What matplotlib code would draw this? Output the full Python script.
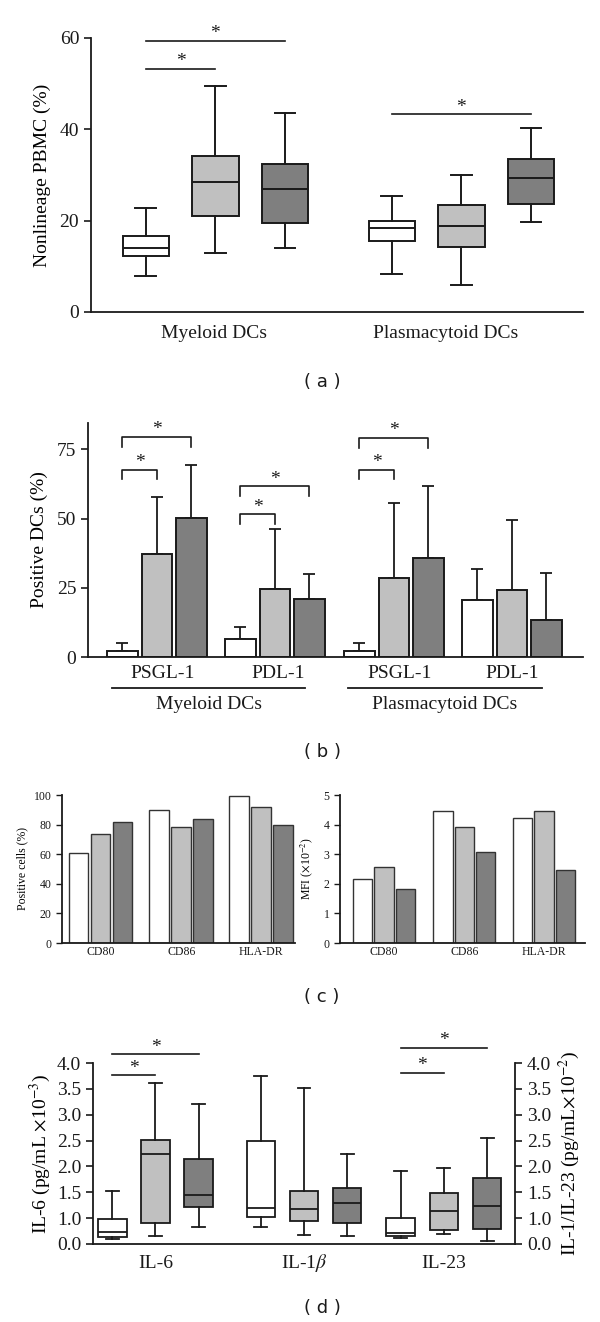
import numpy as np
import matplotlib
matplotlib.use("Agg")
import matplotlib.pyplot as plt

plt.rcParams['font.family'] = ['Liberation Serif', 'DejaVu Serif']
plt.rcParams['mathtext.fontset'] = 'stix'

# ---------------- data ----------------
# (a) nonlineage PBMC boxplots
a_groups = ['Myeloid DCs', 'Plasmacytoid DCs']
a_whislo = [7.9, 13.0, 14.1, 8.4, 6.0, 19.8]
a_q1 = [12.2, 21.0, 19.4, 15.6, 14.3, 23.7]
a_med = [14.0, 28.5, 26.9, 18.4, 18.8, 29.4]
a_q3 = [16.75, 34.2, 32.3, 20.0, 23.5, 33.6]
a_whishi = [22.7, 49.5, 43.5, 25.5, 30.1, 40.2]
a_sig = [(0, 1, 53.2), (0, 2, 59.4), (3, 5, 43.3)]

# (b) positive DCs, mean + SD
b_markers = ['PSGL-1', 'PDL-1', 'PSGL-1', 'PDL-1']
b_cells = ['Myeloid DCs', 'Plasmacytoid DCs']
b_mean = [2.3, 37.1, 50.3, 6.5, 24.6, 21.0, 2.3, 28.6, 35.8, 20.6, 24.2, 13.3]
b_top = [4.9, 57.7, 69.5, 11.0, 46.3, 30.1, 4.9, 55.7, 61.6, 31.7, 49.6, 30.2]
b_sig = [(0, 1, 67.6), (0, 2, 79.5), (3, 4, 51.5), (3, 5, 61.7), (6, 7, 67.6), (6, 8, 79.1)]

# (c) costimulatory molecules
c_labels = ['CD80', 'CD86', 'HLA-DR']
c_pos = [60.5, 73.6, 81.5, 89.6, 78.6, 83.7, 99.1, 92.1, 79.7]
c_mfi = [2.17, 2.58, 1.82, 4.47, 3.93, 3.06, 4.22, 4.46, 2.48]

# (d) cytokines
d_labels = ['IL-6', r'IL-1$\beta$', 'IL-23']
d_whislo = [0.19, 0.30, 0.64, 0.65, 0.34, 0.31, 0.25, 0.40, 0.10]
d_q1 = [0.26, 0.83, 1.21, 1.03, 0.88, 0.82, 0.31, 0.56, 0.58]
d_med = [0.47, 2.24, 1.44, 1.19, 1.17, 1.30, 0.44, 1.13, 1.24]
d_q3 = [0.96, 2.51, 2.14, 2.49, 1.53, 1.59, 1.00, 1.48, 1.77]
d_whishi = [1.53, 3.62, 3.20, 3.74, 3.52, 2.25, 1.92, 1.97, 2.55]
d_sig = [(0, 1, 3.76), (0, 2, 4.17), (6, 7, 3.81), (6, 8, 4.29)]

fills = ['white', '#c0c0c0', '#7f7f7f']
ink = '#1a1a1a'


def place(x0, y0, x1, y1):
    # pixel box (top-left origin) -> figure fraction
    return [x0 / 600, 1 - y1 / 1322, (x1 - x0) / 600, (y1 - y0) / 1322]


def positions(starts, step):
    return [s + j * step for s in starts for j in range(3)]


def stats(lo, q1, med, q3, hi):
    return [dict(whislo=a, q1=b, med=c, q3=d, whishi=e, fliers=[])
            for a, b, c, d, e in zip(lo, q1, med, q3, hi)]


def boxes(ax, st, pos, width, lw=1.4):
    bp = ax.bxp(st, positions=pos, widths=width, patch_artist=True,
                showfliers=False, capwidths=width * 0.45,
                boxprops=dict(edgecolor=ink, linewidth=lw),
                medianprops=dict(color=ink, linewidth=lw),
                whiskerprops=dict(color=ink, linewidth=lw),
                capprops=dict(color=ink, linewidth=lw))
    for i, b in enumerate(bp['boxes']):
        b.set_facecolor(fills[i % 3])


def sigline(ax, x1, x2, y, fs, leg=0.0):
    if leg:
        ax.plot([x1, x1, x2, x2], [y - leg, y, y, y - leg], color=ink, lw=1.2, clip_on=False)
    else:
        ax.plot([x1, x2], [y, y], color=ink, lw=1.2, clip_on=False)
    ax.annotate('*', xy=((x1 + x2) / 2, y), xytext=(0, -1), textcoords='offset points',
                ha='center', va='bottom', fontsize=fs, color=ink, annotation_clip=False)


def style(ax, fs):
    for s in ['top', 'right']:
        ax.spines[s].set_visible(False)
    for s in ['left', 'bottom']:
        ax.spines[s].set_linewidth(1.3)
        ax.spines[s].set_color(ink)
    ax.tick_params(axis='y', direction='out', length=5, width=1.2, labelsize=fs, colors=ink)
    ax.tick_params(axis='x', length=0, labelsize=fs, colors=ink)


def caption(txt, y):
    fig.text(322 / 600, 1 - y / 1322, txt, ha='center', va='center', fontsize=13,
             family='DejaVu Sans', color=ink)


fig = plt.figure(figsize=(6, 13.22), dpi=100)

# ---------------- (a) ----------------
ax = fig.add_axes(place(91, 38, 583, 312))
pa = positions([0.78, 4.28], 0.99)
boxes(ax, stats(a_whislo, a_q1, a_med, a_q3, a_whishi), pa, 0.66)
ax.set_xlim(0, 7)
ax.set_ylim(0, 60)
ax.set_yticks([0, 20, 40, 60])
style(ax, 14)
ax.set_xticks([pa[1] - 0.02, pa[4] - 0.23])
ax.set_xticklabels(a_groups)
ax.tick_params(axis='x', pad=9)
ax.set_ylabel('Nonlineage PBMC (%)', fontsize=14, labelpad=6)
for i, j, h in a_sig:
    sigline(ax, pa[i], pa[j], h, 14)
caption('( a )', 382)

# ---------------- (b) ----------------
ax = fig.add_axes(place(88, 423, 583, 657))
pb = positions([1.0, 4.42, 7.87, 11.29], 1.0)
err = np.array(b_top) - np.array(b_mean)
ax.bar(pb, b_mean, width=0.88, color=fills * 4, edgecolor=ink, linewidth=1.4, zorder=2)
ax.errorbar(pb, b_mean, yerr=[np.zeros(len(err)), err], fmt='none', ecolor=ink,
            elinewidth=1.3, capsize=4.5, capthick=1.3, zorder=1)
ax.set_xlim(0, 14.35)
ax.set_ylim(0, 84.5)
ax.set_yticks([0, 25, 50, 75])
style(ax, 14)
ax.set_xticks([pb[1] + 0.15, pb[4] + 0.1, pb[7] + 0.15, pb[10]])
ax.set_xticklabels(b_markers)
ax.tick_params(axis='x', pad=6)
ax.set_ylabel('Positive DCs (%)', fontsize=14, labelpad=6)
tr = ax.get_xaxis_transform()
for k, (x0, x1) in enumerate([(0.70, 6.29), (7.54, 13.16)]):
    ax.plot([x0, x1], [-0.133, -0.133], transform=tr, color=ink, lw=1.3, clip_on=False)
    ax.text((x0 + x1) / 2, -0.205, b_cells[k], transform=tr, ha='center', va='center',
            fontsize=14, color=ink)
for i, j, h in b_sig:
    sigline(ax, pb[i], pb[j], h, 14, leg=3.5)
caption('( b )', 752)

# ---------------- (c) ----------------
ax = fig.add_axes(place(62, 795, 295, 943))
pc = positions([0.75, 4.43, 8.05], 1.0)
ax.bar(pc, c_pos, width=0.9, color=fills * 3, edgecolor='#333333', linewidth=1.0)
ax.set_xlim(0, 10.6)
ax.set_ylim(0, 100)
ax.set_yticks(range(0, 101, 20))
style(ax, 8.5)
ax.tick_params(axis='y', length=4, width=1.0)
ax.set_xticks(pc[1::3])
ax.set_xticklabels(c_labels)
ax.tick_params(axis='x', pad=2)
ax.set_ylabel('Positive cells (%)', fontsize=8.5, labelpad=4)

ax = fig.add_axes(place(340, 795, 585, 943))
pc2 = positions([1.03, 4.68, 8.3], 0.97)
ax.bar(pc2, c_mfi, width=0.88, color=fills * 3, edgecolor='#333333', linewidth=1.0)
ax.set_xlim(0, 11.14)
ax.set_ylim(0, 5)
ax.set_yticks(range(0, 6))
style(ax, 8.5)
ax.tick_params(axis='y', length=4, width=1.0)
ax.set_xticks(pc2[1::3])
ax.set_xticklabels(c_labels)
ax.tick_params(axis='x', pad=2)
ax.set_ylabel(r'MFI ($\times$10$^{-2}$)', fontsize=8.5, labelpad=6)
caption('( c )', 997)

# ---------------- (d) ----------------


def fwd(y):
    y = np.asarray(y, dtype=float)
    return np.where(y < 1, 0.5 + 0.5 * y, y)


def inv(y):
    y = np.asarray(y, dtype=float)
    return np.where(y < 1, (y - 0.5) * 2, y)


dticks = [0.0, 1.0, 1.5, 2.0, 2.5, 3.0, 3.5, 4.0]
ax = fig.add_axes(place(93, 1063, 515, 1244))
pd_ = positions([0.45, 3.9, 7.15], 1.0)
ax.set_yscale('function', functions=(fwd, inv))
boxes(ax, stats(d_whislo, d_q1, d_med, d_q3, d_whishi), pd_, 0.67, lw=1.3)
ax.set_xlim(0, 9.8)
ax.set_ylim(0, 4)
ax.set_yticks(dticks)
ax.set_yticklabels(['%.1f' % t for t in dticks])
ax.minorticks_off()
style(ax, 14)
ax.set_xticks([])
tr = ax.get_xaxis_transform()
for k, lab in enumerate(d_labels):
    # baseline-aligned so the italic beta does not drop its label
    ax.text(pd_[3 * k + 1], -0.135, lab, transform=tr, ha='center', va='baseline',
            fontsize=14, color=ink)
ax.set_ylabel(r'IL-6 (pg/mL $\times$10$^{-3}$)', fontsize=14, labelpad=3)
for i, j, h in d_sig:
    sigline(ax, pd_[i], pd_[j], h, 14)

ax2 = ax.twinx()
ax2.set_yscale('function', functions=(fwd, inv))
ax2.set_ylim(0, 4)
ax2.set_yticks(dticks)
ax2.set_yticklabels(['%.1f' % t for t in dticks])
ax2.minorticks_off()
for s in ['top', 'left', 'bottom']:
    ax2.spines[s].set_visible(False)
ax2.spines['right'].set_linewidth(1.3)
ax2.spines['right'].set_color(ink)
ax2.tick_params(axis='y', direction='out', length=5, width=1.2, labelsize=14, colors=ink)
ax2.set_ylabel(r'IL-1/IL-23 (pg/mL$\times$10$^{-2}$)', fontsize=14, labelpad=4)
caption('( d )', 1308)

fig.savefig('out.png', dpi=100)
